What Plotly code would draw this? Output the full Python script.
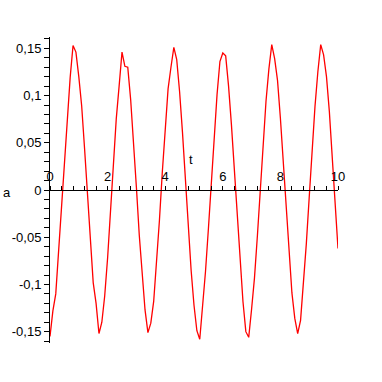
import numpy as np
import plotly.graph_objects as go

t_values = np.linspace(0, 10, 101)
a_values = [
    -0.155, -0.128, -0.110, -0.064, -0.015, 0.036, 0.082, 0.119, 0.153, 0.146,
    0.120, 0.089, 0.044, -0.006, -0.056, -0.098, -0.120, -0.152, -0.140, -0.112,
    -0.072, -0.024, 0.027, 0.075, 0.110, 0.146, 0.131, 0.130, 0.096, 0.053,
    0.003, -0.048, -0.092, -0.127, -0.151, -0.141, -0.118, -0.079, -0.032, 0.019,
    0.067, 0.107, 0.130, 0.151, 0.138, 0.104, 0.061, 0.011, -0.039, -0.085,
    -0.122, -0.149, -0.158, -0.125, -0.086, -0.041, 0.010, 0.059, 0.101, 0.136,
    0.145, 0.142, 0.110, 0.069, 0.020, -0.031, -0.078, -0.118, -0.150, -0.156,
    -0.126, -0.093, -0.049, 0.001, 0.051, 0.094, 0.128, 0.154, 0.139, 0.116,
    0.076, 0.029, -0.022, -0.070, -0.109, -0.136, -0.152, -0.138, -0.099, -0.057,
    -0.008, 0.043, 0.088, 0.125, 0.154, 0.143, 0.120, 0.083, 0.037, -0.013,
    -0.062,
]

x_tickvals = [round(0.4 * i, 2) for i in range(26)]
x_ticktext = [str(int(v)) if abs(v - round(v)) < 1e-9 and int(round(v)) % 2 == 0 else "" for v in x_tickvals]
y_tickvals = [round(-0.16 + 0.01 * i, 2) for i in range(33)]
y_labels = {0.15: "0,15", 0.1: "0,1", 0.05: "0,05", 0.0: "0",
            -0.05: "-0,05", -0.1: "-0,1", -0.15: "-0,15"}
y_ticktext = [y_labels.get(v, "") for v in y_tickvals]

fig = go.Figure()
fig.add_trace(go.Scatter(x=t_values, y=a_values, mode="lines",
                         line=dict(color="#ff0000", width=1.3)))

font = dict(family="Liberation Sans, Arial, sans-serif", size=13, color="black")
fig.update_layout(
    width=382, height=382,
    margin=dict(l=43, r=44, t=37, b=39),
    paper_bgcolor="white", plot_bgcolor="white",
    showlegend=False, font=font,
    xaxis=dict(range=[0, 10], side="top", anchor="free", position=0.5,
               showline=True, linecolor="black", linewidth=1,
               ticks="outside", ticklen=4, tickcolor="black", tickwidth=1,
               tickmode="array", tickvals=x_tickvals, ticktext=x_ticktext,
               showgrid=False, zeroline=False, tickfont=font),
    yaxis=dict(range=[-0.162, 0.162],
               showline=True, linecolor="black", linewidth=1,
               ticks="outside", ticklen=5, tickcolor="black", tickwidth=1,
               tickmode="array", tickvals=y_tickvals, ticktext=y_ticktext,
               showgrid=False, zeroline=False, tickfont=font),
    annotations=[
        dict(text="t", x=4.88, y=0.022, xref="x", yref="y", showarrow=False,
             font=font, xanchor="center", yanchor="bottom"),
        dict(text="a", x=-0.17, y=-0.003, xref="paper", yref="y", showarrow=False,
             font=font, xanchor="left", yanchor="middle"),
    ],
)
fig.write_html("out.html")
